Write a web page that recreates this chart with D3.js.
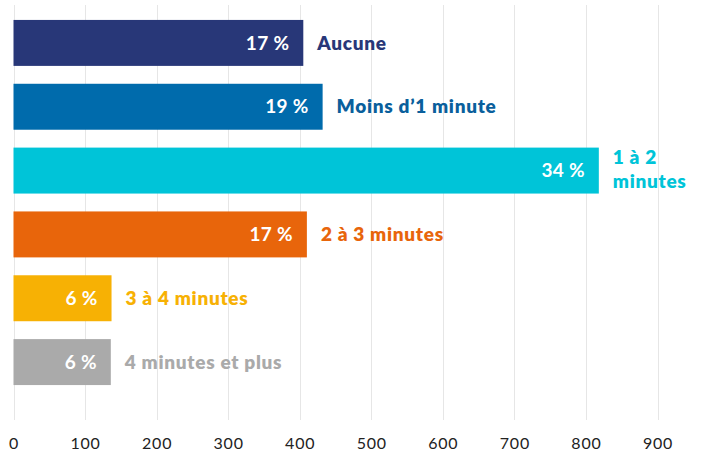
<!DOCTYPE html>
<html>
<head>
<meta charset="utf-8">
<script src="https://cdn.jsdelivr.net/npm/d3@7"></script>
<style>
  body { margin: 0; background: #fff; }
  svg { display: block; }
  .tick text { font-family: "Lato", sans-serif; font-size: 16px; fill: #222; letter-spacing: 0.8px; }
</style>
</head>
<body>
<div class="vis"></div>
<script>
// data
const categories = ["Aucune", "Moins d’1 minute", "1 à 2 minutes", "2 à 3 minutes", "3 à 4 minutes", "4 minutes et plus"];
const counts = [405, 432, 818, 410, 137, 136];
const percents = ["17 %", "19 %", "34 %", "17 %", "6 %", "6 %"];
const colors = ["#283778", "#006bac", "#00c4d8", "#e8650b", "#f7b104", "#aaaaaa"];
const labelColors = ["#283778", "#0a5f9c", "#00c4d8", "#e8650b", "#f7b104", "#aaaaaa"];
const xTicks = [0, 100, 200, 300, 400, 500, 600, 700, 800, 900];

const W = 706, H = 457;

const svg = d3.select(".vis").append("svg")
    .attr("width", W)
    .attr("height", H);

const x = d3.scaleLinear().domain([0, 900]).range([13.5, 657.5]);
const y = d3.scaleBand().domain(categories).range([11, 394])
    .paddingInner(0.28).paddingOuter(0.14);

// vertical gridlines
svg.append("g")
    .selectAll("line")
    .data(xTicks)
    .join("line")
    .attr("x1", d => Math.round(x(d)) + 0.5)
    .attr("x2", d => Math.round(x(d)) + 0.5)
    .attr("y1", 5)
    .attr("y2", 420)
    .attr("stroke", "#e6e6e6")
    .attr("stroke-width", 1);

// x axis labels
const xAxis = svg.append("g")
    .attr("transform", "translate(0, 420)")
    .call(d3.axisBottom(x).tickValues(xTicks).tickSize(0).tickPadding(18).tickFormat(d3.format("d")));
xAxis.select(".domain").remove();

const rows = categories.map((c, i) => ({ cat: c, v: counts[i], pct: percents[i], col: colors[i], lcol: labelColors[i] }));

svg.append("g")
    .selectAll("rect")
    .data(rows)
    .join("rect")
    .attr("x", x(0))
    .attr("y", d => y(d.cat))
    .attr("width", d => x(d.v) - x(0))
    .attr("height", y.bandwidth())
    .attr("fill", d => d.col);

// value labels inside the bars
svg.append("g")
    .selectAll("text")
    .data(rows)
    .join("text")
    .attr("x", d => x(d.v) - 14)
    .attr("y", d => y(d.cat) + y.bandwidth() / 2)
    .attr("dy", "0.35em")
    .attr("text-anchor", "end")
    .attr("fill", "#fff")
    .style("font-family", "Lato, sans-serif")
    .style("font-weight", 700)
    .style("font-size", "19px")
    .style("letter-spacing", "0.3px")
    .text(d => d.pct);

// category labels to the right, wrapped when they would run off the page
const labels = svg.append("g")
    .selectAll("text")
    .data(rows)
    .join("text")
    .attr("x", d => x(d.v) + 14)
    .attr("y", d => y(d.cat) + y.bandwidth() / 2)
    .attr("dy", "0.35em")
    .attr("fill", d => d.lcol)
    .style("font-family", "Lato, sans-serif")
    .style("font-weight", 800)
    .style("font-size", "19px")
    .style("letter-spacing", "0.7px")
    .text(d => d.cat);

labels.each(function(d) {
    const t = d3.select(this);
    const x0 = +t.attr("x");
    if (x0 + this.getComputedTextLength() < W - 4) return;
    const words = d.cat.split(" ");
    const lines = [words.slice(0, -1).join(" "), words[words.length - 1]];
    const cy = +t.attr("y");
    t.text(null).attr("dy", null);
    lines.forEach((ln, k) => {
        t.append("tspan")
            .attr("x", x0)
            .attr("y", cy - 1.5 + (k - 0.5) * 24)
            .attr("dy", "0.35em")
            .text(ln);
    });
});
</script>
</body>
</html>
